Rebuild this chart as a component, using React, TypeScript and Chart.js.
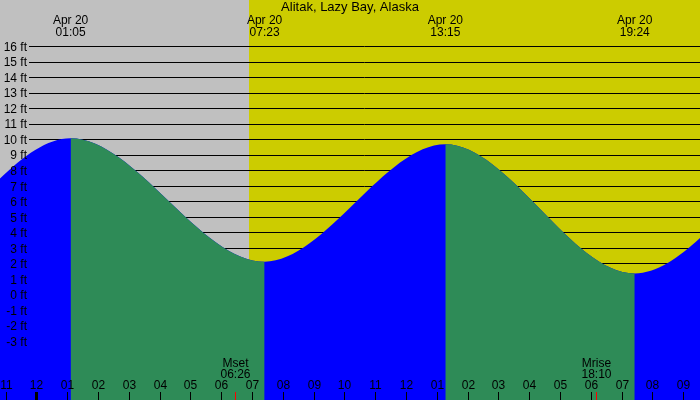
import { useEffect, useRef } from "react";
import { Chart, registerables } from "chart.js";

Chart.register(...registerables);

// ---- data (hours relative to Apr 20 00:00, heights in ft) ----
const tideHours = [-11.3, -5.1, 1.0833, 7.3833, 13.25, 19.4, 25.6, 31.8];
const tideFeet = [9.4, 1.7, 10.1, 2.13, 9.7, 1.37, 9.8, 1.9];

const extremeHours = [1.0833, 7.3833, 13.25, 19.4];
const extremeTimes = ["01:05", "07:23", "13:15", "19:24"];
const extremeDate = "Apr 20";

const feetTicks = [-3, -2, -1, 0, 1, 2, 3, 4, 5, 6, 7, 8, 9, 10, 11, 12, 13, 14, 15, 16];

const hourTicks = [-1, 0, 1, 2, 3, 4, 5, 6, 7, 8, 9, 10, 11, 12, 13, 14, 15, 16, 17, 18, 19, 20, 21];
const hourLabels = ["11", "12", "01", "02", "03", "04", "05", "06", "07", "08", "09", "10", "11", "12", "01", "02", "03", "04", "05", "06", "07", "08", "09"];
const midnightHour = 0;

const sunriseHour = 6.87;
const sunsetHour = 21.8;

const moonNames = ["Mset", "Mrise"];
const moonHours = [6.4333, 18.1667];
const moonTimes = ["06:26", "18:10"];

const title = "Alitak, Lazy Bay, Alaska";

const X_MIN = -1.2078;
const X_MAX = 21.519;
const Y_MIN = -6.79;
const Y_MAX = 19.01;

const NIGHT = "#c0c0c0";
const DAY = "#cccc00";
const BLUE = "#0000ff";
const GREEN = "#2e8b57";
const CLEAR = "rgba(0,0,0,0)";
const FONT = '12px "Liberation Sans", Arial, sans-serif';
const TITLE_FONT = '13px "Liberation Sans", Arial, sans-serif';

const tidePlugin = {
  id: "tideDecor",
  beforeDatasetsDraw(chart: any) {
    const { ctx, chartArea: a, scales } = chart;
    const x = scales.x, y = scales.y;
    ctx.save();
    ctx.fillStyle = NIGHT;
    ctx.fillRect(a.left, a.top, a.right - a.left, a.bottom - a.top);
    const sr = Math.round(x.getPixelForValue(sunriseHour));
    const ss = Math.round(x.getPixelForValue(sunsetHour));
    ctx.fillStyle = DAY;
    ctx.fillRect(sr, a.top, ss - sr, a.bottom - a.top);
    ctx.strokeStyle = "#000";
    ctx.lineWidth = 1;
    for (const v of feetTicks) {
      const py = Math.floor(y.getPixelForValue(v)) + 0.5;
      ctx.beginPath();
      ctx.moveTo(29, py);
      ctx.lineTo(a.right, py);
      ctx.stroke();
    }
    ctx.restore();
  },
  afterDatasetsDraw(chart: any) {
    const { ctx, chartArea: a, scales } = chart;
    const x = scales.x, y = scales.y;
    ctx.save();
    ctx.fillStyle = "#000";
    ctx.textBaseline = "alphabetic";

    // title
    ctx.font = TITLE_FONT;
    ctx.textAlign = "center";
    ctx.fillText(title, (a.left + a.right) / 2, 11);

    ctx.font = FONT;
    // extreme labels
    extremeHours.forEach((h, i) => {
      const px = x.getPixelForValue(h);
      ctx.fillText(extremeDate, px, 24);
      ctx.fillText(extremeTimes[i], px, 36);
    });

    // y labels
    ctx.textAlign = "right";
    for (const v of feetTicks) {
      const py = y.getPixelForValue(v);
      ctx.fillText(`${v} ft`, 27, py + 4.3);
    }

    // hour ticks and labels
    ctx.textAlign = "center";
    hourTicks.forEach((h, i) => {
      const px = Math.round(x.getPixelForValue(h) - 0.8);
      ctx.fillStyle = "#000";
      if (h === midnightHour) ctx.fillRect(px - 1, a.bottom - 8, 3, 8);
      else ctx.fillRect(px, a.bottom - 8, 1, 8);
      ctx.fillText(hourLabels[i], px + 0.5, 389.3);
    });

    // moon events
    moonHours.forEach((h, i) => {
      const px = Math.floor(x.getPixelForValue(h));
      ctx.fillStyle = "#ff0000";
      ctx.fillRect(px, a.bottom - 8, 1, 8);
      ctx.fillStyle = "#000";
      ctx.fillText(moonNames[i], px + 0.5, 366.5);
      ctx.fillText(moonTimes[i], px + 0.5, 378.3);
    });
    ctx.restore();
  },
};

export default function App() {
  const ref = useRef<HTMLCanvasElement>(null);
  useEffect(() => {
    document.body.style.margin = "0";
    const canvas = ref.current!;
    const points = tideHours.map((h, i) => ({ x: h, y: tideFeet[i] }));
    const common = {
      data: points,
      fill: "start",
      borderColor: CLEAR,
      borderWidth: 0,
      pointRadius: 0,
      cubicInterpolationMode: "monotone",
    };
    const chart = new Chart(canvas, {
      type: "line",
      data: {
        datasets: [
          // falling tide (green) drawn on top of the full rising-tide fill (blue)
          {
            ...common,
            label: "falling",
            backgroundColor: GREEN,
            segment: {
              backgroundColor: (c: any) => (c.p1.parsed.y > c.p0.parsed.y ? CLEAR : GREEN),
            },
            order: 0,
          } as any,
          {
            ...common,
            label: "rising",
            backgroundColor: BLUE,
            order: 1,
          } as any,
        ],
      },
      options: {
        responsive: false,
        animation: false,
        events: [],
        layout: { padding: 0 },
        plugins: {
          legend: { display: false },
          tooltip: { enabled: false },
          title: { display: false },
        },
        scales: {
          x: { type: "linear", min: X_MIN, max: X_MAX, display: false },
          y: { type: "linear", min: Y_MIN, max: Y_MAX, display: false },
        },
      },
      plugins: [tidePlugin],
    });
    return () => chart.destroy();
  }, []);
  return <canvas ref={ref} width={700} height={400} style={{ display: "block" }} />;
}
